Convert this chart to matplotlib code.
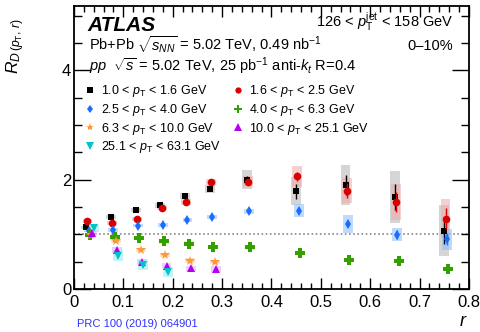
import matplotlib
matplotlib.use("Agg")
import matplotlib.pyplot as plt
from matplotlib.ticker import MultipleLocator
from matplotlib.lines import Line2D

plt.rcParams['font.family'] = ['Liberation Sans', 'DejaVu Sans']
plt.rcParams['mathtext.fontset'] = 'custom'
plt.rcParams['mathtext.rm'] = 'Liberation Sans'
plt.rcParams['mathtext.it'] = 'Liberation Sans:italic'
plt.rcParams['mathtext.bf'] = 'Liberation Sans:bold'

# r bin centres
r_centres = [0.025, 0.075, 0.125, 0.175, 0.225, 0.275, 0.35, 0.45, 0.55, 0.65, 0.75]

labels = [
    r"1.0 < $p_{\mathrm{T}}$ < 1.6 GeV",
    r"1.6 < $p_{\mathrm{T}}$ < 2.5 GeV",
    r"2.5 < $p_{\mathrm{T}}$ < 4.0 GeV",
    r"4.0 < $p_{\mathrm{T}}$ < 6.3 GeV",
    r"6.3 < $p_{\mathrm{T}}$ < 10.0 GeV",
    r"10.0 < $p_{\mathrm{T}}$ < 25.1 GeV",
    r"25.1 < $p_{\mathrm{T}}$ < 63.1 GeV",
]

# R_D values per track-pT interval
rd_1_16 = [1.13, 1.32, 1.45, 1.53, 1.70, 1.83, 2.00, 1.79, 1.90, 1.68, 1.07]
rd_16_25 = [1.25, 1.21, 1.28, 1.49, 1.59, 1.96, 1.96, 2.06, 1.80, 1.59, 1.29]
rd_25_40 = [1.07, 1.08, 1.16, 1.17, 1.26, 1.32, 1.42, 1.43, 1.19, 0.995, 0.91]
rd_40_63 = [0.99, 0.96, 0.94, 0.87, 0.83, 0.77, 0.76, 0.66, 0.53, 0.51, 0.365]
rd_63_100 = [0.98, 0.88, 0.71, 0.62, 0.52, 0.49]
rd_100_251 = [1.02, 0.71, 0.50, 0.43, 0.38, 0.365]
rd_251_631 = [1.11, 0.61, 0.44, 0.31]

# statistical uncertainties
stat_1_16 = [0.01, 0.01, 0.01, 0.02, 0.03, 0.04, 0.07, 0.14, 0.18, 0.24, 0.25]
stat_16_25 = [0.01, 0.01, 0.01, 0.02, 0.02, 0.03, 0.06, 0.085, 0.14, 0.18, 0.20]
stat_25_40 = [0.01, 0.01, 0.01, 0.01, 0.01, 0.02, 0.03, 0.04, 0.05, 0.085, 0.11]
stat_40_63 = [0.01, 0.01, 0.01, 0.01, 0.01, 0.01, 0.02, 0.02, 0.03, 0.03, 0.04]
stat_63_100 = [0.01, 0.01, 0.01, 0.01, 0.02, 0.02]
stat_100_251 = [0.01, 0.01, 0.01, 0.02, 0.02, 0.03]
stat_251_631 = [0.02, 0.03, 0.03, 0.04]

# systematic uncertainties
sys_1_16 = [0.03, 0.04, 0.04, 0.05, 0.06, 0.08, 0.17, 0.26, 0.37, 0.48, 0.46]
sys_16_25 = [0.04, 0.04, 0.04, 0.04, 0.05, 0.06, 0.10, 0.19, 0.23, 0.33, 0.36]
sys_25_40 = [0.03, 0.03, 0.03, 0.03, 0.04, 0.04, 0.05, 0.12, 0.17, 0.12, 0.19]
sys_40_63 = [0.03, 0.03, 0.03, 0.04, 0.04, 0.04, 0.04, 0.04, 0.04, 0.04, 0.04]
sys_63_100 = [0.03, 0.03, 0.04, 0.04, 0.04, 0.04]
sys_100_251 = [0.04, 0.05, 0.05, 0.05, 0.05, 0.05]
sys_251_631 = [0.06, 0.10, 0.09, 0.09]

values = [rd_1_16, rd_16_25, rd_25_40, rd_40_63, rd_63_100, rd_100_251, rd_251_631]
stats = [stat_1_16, stat_16_25, stat_25_40, stat_40_63, stat_63_100, stat_100_251, stat_251_631]
systs = [sys_1_16, sys_16_25, sys_25_40, sys_40_63, sys_63_100, sys_100_251, sys_251_631]

colors = ['#000000', '#d80000', '#1a6cff', '#33a000', '#ff9a3c', '#b400f0', '#00c4c8']
box_colors = ['#b4b4b4', '#f4a8a8', '#8cbcff', '#b0eaa0', '#ffcc99', '#e0a8ff', '#9ae8ea']
markers = ['s', 'o', 'd', 'P', '*', '^', 'v']
msizes = [5, 5.5, 5.5, 7, 7, 6, 6]
leg_sizes = [4, 4.5, 4.5, 6, 6, 5.5, 5.5]

fig = plt.figure(figsize=(4.8, 3.32), dpi=100)
ax = fig.add_axes([0.154, 0.1295, 0.823, 0.8525])

ax.axhline(1.0, color='#888888', ls=(0, (1, 1.5)), lw=1.2, zorder=1)

for i in range(7):
    n = len(values[i])
    xs = [r_centres[k] + 0.0025 * i for k in range(n)]
    ax.bar(xs, [2 * s for s in systs[i]], width=0.02,
           bottom=[v - s for v, s in zip(values[i], systs[i])],
           color=box_colors[i], alpha=0.55, linewidth=0, zorder=2 + i * 0.1)
for i in range(7):
    n = len(values[i])
    xs = [r_centres[k] + 0.0025 * i for k in range(n)]
    ax.errorbar(xs, values[i], yerr=stats[i], fmt=markers[i], color=colors[i],
                ms=msizes[i], mew=0, elinewidth=1.0, capsize=2, capthick=1.0,
                zorder=5 + i * 0.1)

# legend entries show markers only; arranged row by row in two columns
handles = [Line2D([], [], ls='none', marker=markers[i], color=colors[i], ms=leg_sizes[i],
                  mew=0, label=labels[i]) for i in range(7)]
order = [0, 2, 4, 6, 1, 3, 5]

ax.set_xlim(0, 0.8)
ax.set_ylim(0, 5.18)
ax.xaxis.set_minor_locator(MultipleLocator(0.02))
ax.yaxis.set_minor_locator(MultipleLocator(0.5))
ax.set_xticks([0, 0.1, 0.2, 0.3, 0.4, 0.5, 0.6, 0.7, 0.8])
ax.set_xticklabels(['0', '0.1', '0.2', '0.3', '0.4', '0.5', '0.6', '0.7', '0.8'])
ax.set_yticks([0, 2, 4])
ax.set_yticklabels(['0', '2', '4'])
ax.tick_params(which='both', direction='in', top=True, right=True, labelsize=12, width=1)
ax.tick_params(axis='x', which='major', length=8, pad=4)
ax.tick_params(axis='x', which='minor', length=4)
ax.tick_params(axis='y', which='major', length=12, pad=2)
ax.tick_params(axis='y', which='minor', length=6)
for sp in ax.spines.values():
    sp.set_linewidth(1.3)

ax.set_ylabel(r"$R_{D\,(p_{\mathrm{T}},\,r)}$", fontsize=12.5)
ax.yaxis.set_label_coords(-0.118, 0.86)
ax.set_xlabel(r"$r$", fontsize=13)
ax.xaxis.set_label_coords(0.985, -0.085)

ax.text(0.035, 0.963, "ATLAS", transform=ax.transAxes, fontsize=15,
        fontweight='bold', fontstyle='italic', va='top', ha='left')
ax.text(0.96, 0.925, r"126 < $p_{\mathrm{T}}^{\mathrm{jet}}$ < 158 GeV", transform=ax.transAxes,
        fontsize=10.5, ha='right', va='baseline')
ax.text(0.037, 0.845, r"Pb+Pb $\sqrt{s_{NN}}$ = 5.02 TeV, 0.49 nb$^{-1}$", transform=ax.transAxes,
        fontsize=10.5, ha='left', va='baseline')
ax.text(0.96, 0.845, "0\u201310%", transform=ax.transAxes,
        fontsize=10.5, ha='right', va='baseline')
ax.text(0.037, 0.77, r"$pp$  $\sqrt{s}$ = 5.02 TeV, 25 pb$^{-1}$ anti-$k_{t}$ R=0.4", transform=ax.transAxes,
        fontsize=10.5, ha='left', va='baseline')

ax.legend(handles=[handles[k] for k in order], ncol=2, loc='upper left',
          bbox_to_anchor=(0.015, 0.745), frameon=False, fontsize=9,
          handlelength=0.8, handletextpad=0.5, columnspacing=0.9,
          labelspacing=0.22, borderaxespad=0)

fig.text(77 / 480, 1 - 327 / 332, "PRC 100 (2019) 064901", color='#3030ff', fontsize=8,
         ha='left', va='baseline')

fig.savefig("out.png", dpi=100)
